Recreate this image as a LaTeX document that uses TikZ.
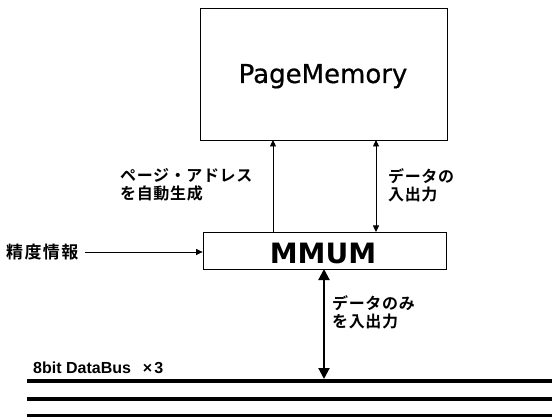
\documentclass[tikz,border=0pt]{standalone}
\usepackage{fontspec}
\setmainfont{Noto Sans CJK JP}
\newfontfamily\jpb[LetterSpace=4]{Noto Sans CJK JP Bold}
\newfontfamily\jpk[LetterSpace=8]{Noto Sans CJK JP Bold}
\newfontfamily\dvs[FakeBold=0.6]{DejaVu Sans}
\newfontfamily\dvsb{DejaVu Sans Bold}
\newfontfamily\lsb{Liberation Sans Bold}
\usetikzlibrary{arrows.meta}
\begin{document}
\begin{tikzpicture}[x=1pt,y=-1pt,
  box/.style={draw,line width=0.8pt,inner sep=0pt},
  thin/.style={line width=0.7pt},
  sh/.style={-{Triangle[length=6.5pt,width=6pt]}},
  dh/.style={{Triangle[length=6.5pt,width=6pt]}-{Triangle[length=6.5pt,width=6pt]}},
  lbl/.style={font=\jpb\fontsize{16}{18.5}\selectfont,align=left,inner sep=0pt}]
\useasboundingbox (0,0) rectangle (552,417);
\node[box,minimum width=247pt,minimum height=132pt] (pm) at (323.5,74) {};
\node[font=\dvs\fontsize{26}{30}\selectfont,anchor=base] (pmt) at (323,83) {PageMemory};
\node[box,minimum width=243pt,minimum height=37pt] (mm) at (324.5,250.5) {};
\node[font=\dvsb\fontsize{28}{32}\selectfont,anchor=base] (mmt) at (323,263) {MMUM};
\coordinate (a1) at (273,232);
\coordinate (a1t) at (273,140);
\draw[thin,sh] (a1) -- (a1t);
\coordinate (a2t) at (376,140);
\coordinate (a2b) at (376,232);
\draw[thin,dh] (a2t) -- (a2b);
\node[lbl,anchor=north west] (l1) at (120,168) {ページ・アドレス\\を自動生成};
\node[lbl,anchor=north west] (l2) at (388,168) {データの\\入出力};
\node[font=\jpk\fontsize{17}{19}\selectfont,anchor=west,inner sep=0pt] (sd) at (6,252) {精度情報};
\coordinate (sde) at (85,252);
\draw[thin,sh] (sde) -- (mm.west |- sde);
\coordinate (bt) at (324,269);
\coordinate (bb) at (324,379);
\draw[line width=2pt,{Triangle[length=11pt,width=11pt]}-{Triangle[length=11pt,width=11pt]}] (bt) -- (bb);
\node[lbl,anchor=north west] (l3) at (332,295) {データのみ\\を入出力};
\node[font=\lsb\fontsize{16}{18}\selectfont,anchor=base west,inner sep=0pt] (db) at (33,373) {8bit DataBus\hspace{12pt}×\hspace{2pt}3};
\coordinate (b1l) at (27,381); \coordinate (b1r) at (552,381);
\coordinate (b2l) at (27,399); \coordinate (b2r) at (552,399);
\coordinate (b3l) at (27,415.5); \coordinate (b3r) at (552,415.5);
\draw[line width=3.5pt] (b1l) -- (b1r);
\draw[line width=3.5pt] (b2l) -- (b2r);
\draw[line width=3.5pt] (b3l) -- (b3r);
\end{tikzpicture}
\end{document}
